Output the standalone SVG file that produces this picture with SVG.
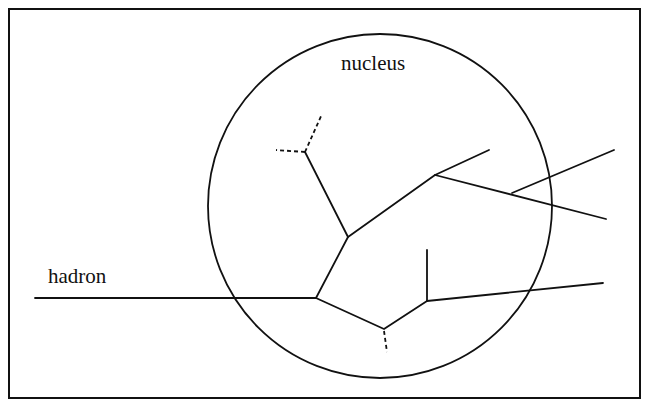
<svg xmlns="http://www.w3.org/2000/svg" width="645" height="399" viewBox="0 0 645 399">
<style>
.ln{stroke:#111;stroke-width:1.8;fill:none;stroke-linecap:round;stroke-linejoin:round}
.dash{stroke:#111;stroke-width:1.8;fill:none;stroke-dasharray:4 3}
.lbl{font-family:"Liberation Serif","Times New Roman",serif;font-size:21px;fill:#111}
</style>
<rect x="0" y="0" width="645" height="399" fill="#fff"/>
<g id="frame"><rect x="9" y="9" width="631" height="389" fill="none" stroke="#111" stroke-width="2"/></g>
<g id="nucleus">
<circle cx="380" cy="206" r="172" fill="none" stroke="#111" stroke-width="1.8"/>
<text class="lbl" x="341" y="70">nucleus</text>
</g>
<g id="hadron"><text class="lbl" x="48" y="283">hadron</text></g>
<g id="connectors">
<path class="ln" d="M35 298 L316 298 L348 237 L305 152"/>
<path class="ln" d="M348 237 L435 175 L489 150"/>
<path class="ln" d="M435 175 L606 219"/>
<path class="ln" d="M512 193 L614 150"/>
<path class="ln" d="M316 298 L384 329 L427 301 L427 250"/>
<path class="ln" d="M427 301 L603 283"/>
<path class="dash" d="M305 152 L276 150"/>
<path class="dash" d="M305 152 L322 114"/>
<path class="dash" d="M384 331 L387 352"/>
</g>
</svg>
